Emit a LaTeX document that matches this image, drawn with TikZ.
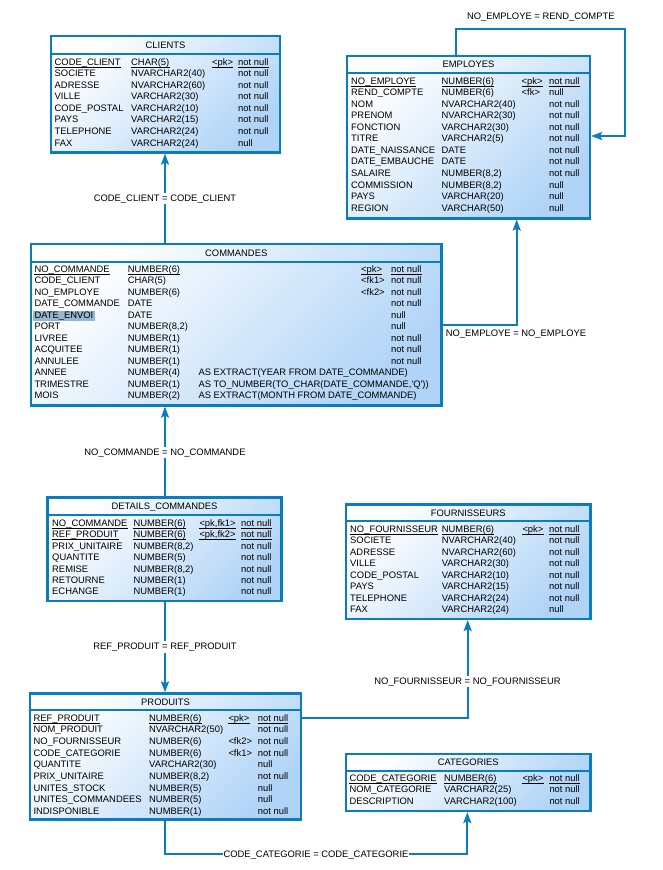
\documentclass[tikz,border=0pt]{standalone}
\usepackage{fontspec}
\setmainfont{Liberation Sans}
\usetikzlibrary{arrows.meta}
\definecolor{bc}{RGB}{10,125,192}
\definecolor{gb}{RGB}{176,212,247}
\definecolor{hl}{RGB}{150,183,210}
\newcommand\fsz{\fontsize{9.4}{11}\selectfont}
\tikzset{
  tbl/.style={draw=bc, line width=2.2pt, top color=white, bottom color=gb, shading angle=45, inner sep=0pt},
  sepline/.style={draw=bc, line width=2pt},
  cell/.style={anchor=base west, inner sep=0pt, font=\fsz, text=black},
  ttl/.style={anchor=base, inner sep=0pt, font=\fsz, text=black},
  lbl/.style={anchor=base, fill=white, inner xsep=1pt, inner ysep=1.5pt, font=\fsz, text=black},
  uline/.style={line width=0.8pt, black},
  conn/.style={draw=bc, line width=2pt, -{Stealth[length=11pt,width=8pt,inset=2pt]}}
}
% #1 name, #2 x1, #3 y1, #4 x2, #5 y2, #6 separator y, #7 title
\newcommand\tbox[7]{%
  \pgfmathsetmacro\bw{#4-#2}\pgfmathsetmacro\bh{#5-#3}%
  \pgfmathsetmacro\bx{(#2+#4)/2}\pgfmathsetmacro\by{(#3+#5)/2}%
  \pgfmathsetmacro\ty{(#3+#6)/2+3.4}%
  \node[tbl, minimum width=\bw pt, minimum height=\bh pt] (#1) at (\bx,\by) {};
  \draw[sepline] (#2,#6) -- (#4,#6);
  \node[ttl] (#1-title) at (\bx,\ty) {#7};
}
% #1 tab, #2 idx, #3 name, #4 type, #5 key, #6 null, #7 underline flag
\newcommand\trow[7]{%
  \pgfmathsetmacro\ry{\ystart+(#2-1)*\ystep+3.4}%
  \node[cell] (#1-#2-n) at (\cA,\ry) {#3};
  \node[cell] (#1-#2-t) at (\cB,\ry) {#4};
  \node[cell] (#1-#2-k) at (\cC,\ry) {#5};
  \node[cell] (#1-#2-z) at (\cD,\ry) {#6};
  \ifnum#7=1
    \foreach \s in {n,t,k,z}{\draw[uline] ([yshift=-2pt]#1-#2-\s.base west) -- ([yshift=-2pt]#1-#2-\s.base east);}
  \fi
}
\begin{document}
\begin{tikzpicture}[x=1pt,y=-1pt]
\path[use as bounding box, fill=white] (0,0) rectangle (663,870);

% ---------- tables ----------
\tbox{clients}{51}{36}{280}{152.5}{53.5}{CLIENTS}
\tbox{employes}{347}{56}{590}{218.5}{72.5}{EMPLOYES}
\tbox{commandes}{31}{244}{441.5}{405.5}{262}{COMMANDES}
\tbox{details}{47.5}{497.5}{281.5}{601}{515}{DETAILS\_COMMANDES}
\tbox{fournisseurs}{346}{504.5}{590.5}{619}{521}{FOURNISSEURS}
\tbox{produits}{30}{693.5}{301}{819.5}{710}{PRODUITS}
\tbox{categories}{346}{754}{590.5}{811}{770.7}{CATEGORIES}

% ---------- CLIENTS rows ----------
\def\cA{54.5}\def\cB{131}\def\cC{212}\def\cD{238}\def\ystart{61.7}\def\ystep{11.57}
\trow{cl}{1}{CODE\_CLIENT}{CHAR(5)}{<pk>}{not null}{1}
\trow{cl}{2}{SOCIETE}{NVARCHAR2(40)}{}{not null}{0}
\trow{cl}{3}{ADRESSE}{NVARCHAR2(60)}{}{not null}{0}
\trow{cl}{4}{VILLE}{VARCHAR2(30)}{}{not null}{0}
\trow{cl}{5}{CODE\_POSTAL}{VARCHAR2(10)}{}{not null}{0}
\trow{cl}{6}{PAYS}{VARCHAR2(15)}{}{not null}{0}
\trow{cl}{7}{TELEPHONE}{VARCHAR2(24)}{}{not null}{0}
\trow{cl}{8}{FAX}{VARCHAR2(24)}{}{null}{0}

% ---------- EMPLOYES rows ----------
\def\cA{351}\def\cB{441.5}\def\cC{521.5}\def\cD{549}\def\ystart{80.7}\def\ystep{11.55}
\trow{em}{1}{NO\_EMPLOYE}{NUMBER(6)}{<pk>}{not null}{1}
\trow{em}{2}{REND\_COMPTE}{NUMBER(6)}{<fk>}{null}{0}
\trow{em}{3}{NOM}{NVARCHAR2(40)}{}{not null}{0}
\trow{em}{4}{PRENOM}{NVARCHAR2(30)}{}{not null}{0}
\trow{em}{5}{FONCTION}{VARCHAR2(30)}{}{not null}{0}
\trow{em}{6}{TITRE}{VARCHAR2(5)}{}{not null}{0}
\trow{em}{7}{DATE\_NAISSANCE}{DATE}{}{not null}{0}
\trow{em}{8}{DATE\_EMBAUCHE}{DATE}{}{not null}{0}
\trow{em}{9}{SALAIRE}{NUMBER(8,2)}{}{not null}{0}
\trow{em}{10}{COMMISSION}{NUMBER(8,2)}{}{null}{0}
\trow{em}{11}{PAYS}{VARCHAR(20)}{}{null}{0}
\trow{em}{12}{REGION}{VARCHAR(50)}{}{null}{0}

% ---------- COMMANDES rows ----------
\fill[hl] (33,311) rectangle (95,321);
\def\cA{34.3}\def\cB{127.7}\def\cC{361}\def\cD{391}\def\ystart{269}\def\ystep{11.48}
\trow{co}{1}{NO\_COMMANDE}{NUMBER(6)}{<pk>}{not null}{1}
\trow{co}{2}{CODE\_CLIENT}{CHAR(5)}{<fk1>}{not null}{0}
\trow{co}{3}{NO\_EMPLOYE}{NUMBER(6)}{<fk2>}{not null}{0}
\trow{co}{4}{DATE\_COMMANDE}{DATE}{}{not null}{0}
\trow{co}{5}{DATE\_ENVOI}{DATE}{}{null}{0}
\trow{co}{6}{PORT}{NUMBER(8,2)}{}{null}{0}
\trow{co}{7}{LIVREE}{NUMBER(1)}{}{not null}{0}
\trow{co}{8}{ACQUITEE}{NUMBER(1)}{}{not null}{0}
\trow{co}{9}{ANNULEE}{NUMBER(1)}{}{not null}{0}
\trow{co}{10}{ANNEE}{NUMBER(4)}{}{}{0}
\trow{co}{11}{TRIMESTRE}{NUMBER(1)}{}{}{0}
\trow{co}{12}{MOIS}{NUMBER(2)}{}{}{0}
\node[cell] (co-10-x) at (198.3,375.7) {AS EXTRACT(YEAR FROM DATE\_COMMANDE)};
\node[cell] (co-11-x) at (198.3,387.2) {AS TO\_NUMBER(TO\_CHAR(DATE\_COMMANDE,\textquotesingle Q\textquotesingle))};
\node[cell] (co-12-x) at (198.3,398.7) {AS EXTRACT(MONTH FROM DATE\_COMMANDE)};

% ---------- DETAILS_COMMANDES rows ----------
\def\cA{52}\def\cB{133.3}\def\cC{199.3}\def\cD{241}\def\ystart{523}\def\ystep{11.4}
\trow{dc}{1}{NO\_COMMANDE}{NUMBER(6)}{<pk,fk1>}{not null}{1}
\trow{dc}{2}{REF\_PRODUIT}{NUMBER(6)}{<pk,fk2>}{not null}{1}
\trow{dc}{3}{PRIX\_UNITAIRE}{NUMBER(8,2)}{}{not null}{0}
\trow{dc}{4}{QUANTITE}{NUMBER(5)}{}{not null}{0}
\trow{dc}{5}{REMISE}{NUMBER(8,2)}{}{not null}{0}
\trow{dc}{6}{RETOURNE}{NUMBER(1)}{}{not null}{0}
\trow{dc}{7}{ECHANGE}{NUMBER(1)}{}{not null}{0}

% ---------- FOURNISSEURS rows ----------
\def\cA{350}\def\cB{441.7}\def\cC{522.3}\def\cD{549}\def\ystart{528.7}\def\ystep{11.5}
\trow{fo}{1}{NO\_FOURNISSEUR}{NUMBER(6)}{<pk>}{not null}{1}
\trow{fo}{2}{SOCIETE}{NVARCHAR2(40)}{}{not null}{0}
\trow{fo}{3}{ADRESSE}{NVARCHAR2(60)}{}{not null}{0}
\trow{fo}{4}{VILLE}{VARCHAR2(30)}{}{not null}{0}
\trow{fo}{5}{CODE\_POSTAL}{VARCHAR2(10)}{}{not null}{0}
\trow{fo}{6}{PAYS}{VARCHAR2(15)}{}{not null}{0}
\trow{fo}{7}{TELEPHONE}{VARCHAR2(24)}{}{not null}{0}
\trow{fo}{8}{FAX}{VARCHAR2(24)}{}{null}{0}

% ---------- PRODUITS rows ----------
\def\cA{33.3}\def\cB{149}\def\cC{228.3}\def\cD{257.7}\def\ystart{717.7}\def\ystep{11.66}
\trow{pr}{1}{REF\_PRODUIT}{NUMBER(6)}{<pk>}{not null}{1}
\trow{pr}{2}{NOM\_PRODUIT}{NVARCHAR2(50)}{}{not null}{0}
\trow{pr}{3}{NO\_FOURNISSEUR}{NUMBER(6)}{<fk2>}{not null}{0}
\trow{pr}{4}{CODE\_CATEGORIE}{NUMBER(6)}{<fk1>}{not null}{0}
\trow{pr}{5}{QUANTITE}{VARCHAR2(30)}{}{null}{0}
\trow{pr}{6}{PRIX\_UNITAIRE}{NUMBER(8,2)}{}{not null}{0}
\trow{pr}{7}{UNITES\_STOCK}{NUMBER(5)}{}{null}{0}
\trow{pr}{8}{UNITES\_COMMANDEES}{NUMBER(5)}{}{null}{0}
\trow{pr}{9}{INDISPONIBLE}{NUMBER(1)}{}{not null}{0}

% ---------- CATEGORIES rows ----------
\def\cA{349.3}\def\cB{444}\def\cC{522.3}\def\cD{549.3}\def\ystart{778}\def\ystep{11.35}
\trow{ca}{1}{CODE\_CATEGORIE}{NUMBER(6)}{<pk>}{not null}{1}
\trow{ca}{2}{NOM\_CATEGORIE}{VARCHAR2(25)}{}{not null}{0}
\trow{ca}{3}{DESCRIPTION}{VARCHAR2(100)}{}{not null}{0}

% ---------- connectors ----------
\coordinate (loopA) at (456,29.3);
\coordinate (loopB) at (625,29.3);
\coordinate (loopC) at (625,136);
\coordinate (ce) at (516.7,325);
\coordinate (pf) at (467.7,718.3);
\coordinate (pcA) at (165,854);
\coordinate (pcB) at (467.3,854);

\draw[conn] (165,0 |- commandes.north) -- (165,0 |- clients.south);
\draw[conn] (loopA |- employes.north) -- (loopA) -- (loopB) -- (loopC) -- (loopC -| employes.east);
\draw[conn] (ce -| commandes.east) -- (ce) -- (ce |- employes.south);
\draw[conn] (165,0 |- details.north) -- (165,0 |- commandes.south);
\draw[conn] (165,0 |- details.south) -- (165,0 |- produits.north);
\draw[conn] (pf -| produits.east) -- (pf) -- (pf |- fournisseurs.south);
\draw[conn] (pcA |- produits.south) -- (pcA) -- (pcB) -- (pcB |- categories.south);

% ---------- connector labels ----------
\node[lbl] (l-cc) at (165,201.1) {CODE\_CLIENT = CODE\_CLIENT};
\node[lbl] (l-er) at (540.8,19.1) {NO\_EMPLOYE = REND\_COMPTE};
\node[lbl] (l-ee) at (516,336.1) {NO\_EMPLOYE = NO\_EMPLOYE};
\node[lbl] (l-nc) at (165,455.1) {NO\_COMMANDE = NO\_COMMANDE};
\node[lbl] (l-rp) at (165,649.4) {REF\_PRODUIT = REF\_PRODUIT};
\node[lbl] (l-nf) at (467.5,684.1) {NO\_FOURNISSEUR = NO\_FOURNISSEUR};
\node[lbl] (l-ca) at (316,857.4) {CODE\_CATEGORIE = CODE\_CATEGORIE};
\end{tikzpicture}
\end{document}
